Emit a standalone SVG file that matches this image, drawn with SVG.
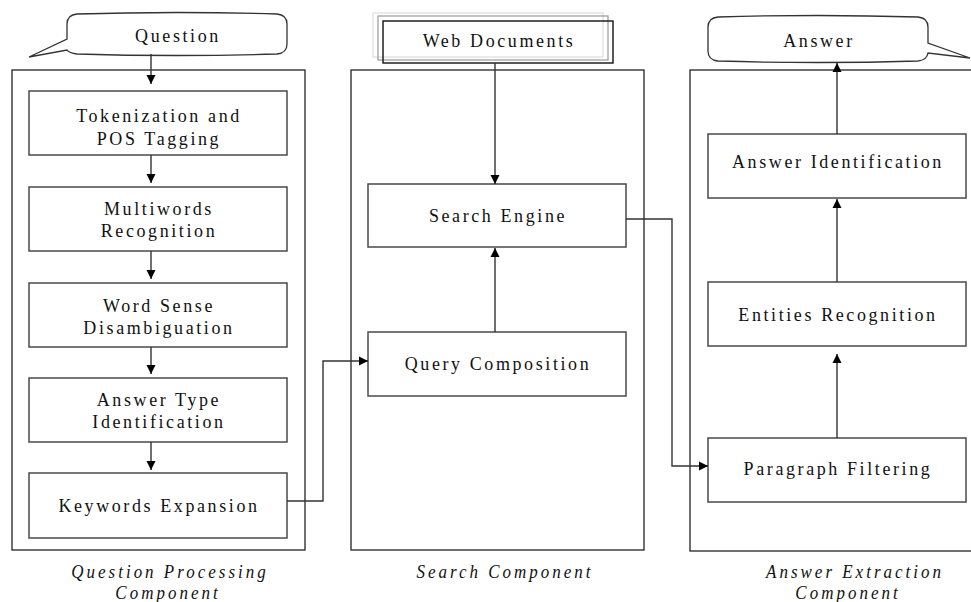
<svg xmlns="http://www.w3.org/2000/svg" width="971" height="602" viewBox="0 0 971 602">
  <style>
    .panel { fill: none; stroke: #222; stroke-width: 1.3; }
    .box { fill: #fff; stroke: #4a4a4a; stroke-width: 1.5; }
    .callout { fill: #fff; stroke: #333; stroke-width: 1.3; }
    .t { font-family: "Liberation Serif", "Times New Roman", serif; font-size: 18px; letter-spacing: 2.6px; fill: #111; text-anchor: middle; }
    .cap { font-family: "Liberation Serif", "Times New Roman", serif; font-size: 17px; font-style: italic; letter-spacing: 3px; fill: #111; text-anchor: middle; }
    .conn { fill: none; stroke: #333; stroke-width: 1.4; marker-end: url(#arrow); }
  </style>
  <defs>
    <marker id="arrow" viewBox="0 0 10 10" refX="10" refY="5" markerUnits="userSpaceOnUse" markerWidth="9" markerHeight="11" orient="auto">
      <path d="M0,0 L10,5 L0,10 Z" fill="#000"/>
    </marker>
  </defs>
  <rect width="971" height="602" fill="#fff"/>

  <!-- component panels; labels are stretched slightly upward from their baselines -->
  <g id="panel-question-processing">
    <rect class="panel" x="12" y="70" width="293" height="480"/>
    <text class="cap" x="170" y="578" transform="matrix(1 0 0 1.12 0 -69.36)">Question Processing</text>
    <text class="cap" x="168" y="599" transform="matrix(1 0 0 1.12 0 -71.88)">Component</text>
  </g>
  <g id="panel-search">
    <rect class="panel" x="351" y="70" width="293" height="480"/>
    <text class="cap" x="505" y="578" transform="matrix(1 0 0 1.12 0 -69.36)">Search Component</text>
  </g>
  <g id="panel-answer-extraction">
    <rect class="panel" x="690" y="70" width="293" height="481"/>
    <text class="cap" x="855" y="578" transform="matrix(1 0 0 1.12 0 -69.36)">Answer Extraction</text>
    <text class="cap" x="848" y="599" transform="matrix(1 0 0 1.12 0 -71.88)">Component</text>
  </g>

  <!-- input / output callouts -->
  <g id="question">
    <path class="callout" d="M77,14 Q177,11 277,14 Q287,15 287,24 L287,44 Q287,53 277,54 Q177,57 77,54 Q69,53 67,50 L29,57 L67,39 L67,24 Q67,15 77,14 Z"/>
    <text class="t" x="178" y="42" transform="matrix(1 0 0 1.1 0 -4.2)">Question</text>
  </g>
  <g id="answer">
    <path class="callout" d="M718,17 Q818,14 918,17 Q928,18 928,27 L928,43 L970,58 L928,53 Q927,60 918,61 Q818,64 718,61 Q708,60 708,51 L708,27 Q708,18 718,17 Z"/>
    <text class="t" x="819" y="47" transform="matrix(1 0 0 1.1 0 -4.7)">Answer</text>
  </g>
  <g id="web-documents">
    <rect x="373" y="13" width="230" height="44" fill="none" stroke="#ddd" stroke-width="1.2"/>
    <rect x="378" y="16" width="230" height="44" fill="none" stroke="#999" stroke-width="1.2"/>
    <rect x="383" y="21" width="230" height="42" fill="none" stroke="#111" stroke-width="1.4"/>
    <text class="t" x="499" y="47" transform="matrix(1 0 0 1.1 0 -4.7)">Web Documents</text>
  </g>

  <!-- question processing steps -->
  <g id="tokenization">
    <rect class="box" x="29" y="91" width="258" height="64"/>
    <text class="t" x="159" y="122" transform="matrix(1 0 0 1.1 0 -12.2)">Tokenization and</text>
    <text class="t" x="159" y="145" transform="matrix(1 0 0 1.1 0 -14.5)">POS Tagging</text>
  </g>
  <g id="multiwords">
    <rect class="box" x="29" y="187" width="258" height="64"/>
    <text class="t" x="159" y="215" transform="matrix(1 0 0 1.1 0 -21.5)">Multiwords</text>
    <text class="t" x="159" y="237" transform="matrix(1 0 0 1.1 0 -23.7)">Recognition</text>
  </g>
  <g id="word-sense">
    <rect class="box" x="29" y="283" width="258" height="64"/>
    <text class="t" x="159" y="312" transform="matrix(1 0 0 1.1 0 -31.2)">Word Sense</text>
    <text class="t" x="159" y="334" transform="matrix(1 0 0 1.1 0 -33.4)">Disambiguation</text>
  </g>
  <g id="answer-type">
    <rect class="box" x="29" y="378" width="258" height="64"/>
    <text class="t" x="159" y="406" transform="matrix(1 0 0 1.1 0 -40.6)">Answer Type</text>
    <text class="t" x="159" y="428" transform="matrix(1 0 0 1.1 0 -42.8)">Identification</text>
  </g>
  <g id="keywords-expansion">
    <rect class="box" x="29" y="473" width="258" height="65"/>
    <text class="t" x="159" y="512" transform="matrix(1 0 0 1.1 0 -51.2)">Keywords Expansion</text>
  </g>

  <!-- search steps -->
  <g id="search-engine">
    <rect class="box" x="368" y="184" width="258" height="63"/>
    <text class="t" x="498" y="222" transform="matrix(1 0 0 1.1 0 -22.2)">Search Engine</text>
  </g>
  <g id="query-composition">
    <rect class="box" x="368" y="332" width="258" height="64"/>
    <text class="t" x="498" y="370" transform="matrix(1 0 0 1.1 0 -37)">Query Composition</text>
  </g>

  <!-- answer extraction steps -->
  <g id="answer-identification">
    <rect class="box" x="708" y="134" width="258" height="64"/>
    <text class="t" x="838" y="168" transform="matrix(1 0 0 1.1 0 -16.8)">Answer Identification</text>
  </g>
  <g id="entities-recognition">
    <rect class="box" x="708" y="282" width="258" height="64"/>
    <text class="t" x="838" y="321" transform="matrix(1 0 0 1.1 0 -32.1)">Entities Recognition</text>
  </g>
  <g id="paragraph-filtering">
    <rect class="box" x="708" y="438" width="258" height="64"/>
    <text class="t" x="838" y="475" transform="matrix(1 0 0 1.1 0 -47.5)">Paragraph Filtering</text>
  </g>

  <!-- connectors -->
  <g id="connectors">
    <line class="conn" x1="151" y1="54" x2="151" y2="84"/>
    <line class="conn" x1="151" y1="155" x2="151" y2="183"/>
    <line class="conn" x1="151" y1="251" x2="151" y2="279"/>
    <line class="conn" x1="151" y1="347" x2="151" y2="374"/>
    <line class="conn" x1="151" y1="442" x2="151" y2="470"/>
    <polyline class="conn" points="287,501 323,501 323,361 368,361"/>
    <line class="conn" x1="495" y1="63" x2="495" y2="184"/>
    <line class="conn" x1="495" y1="332" x2="495" y2="248"/>
    <polyline class="conn" points="626,219 672,219 672,466 708,466"/>
    <line class="conn" x1="837" y1="438" x2="837" y2="354"/>
    <line class="conn" x1="837" y1="282" x2="837" y2="199"/>
    <line class="conn" x1="837" y1="134" x2="837" y2="63"/>
  </g>
</svg>
